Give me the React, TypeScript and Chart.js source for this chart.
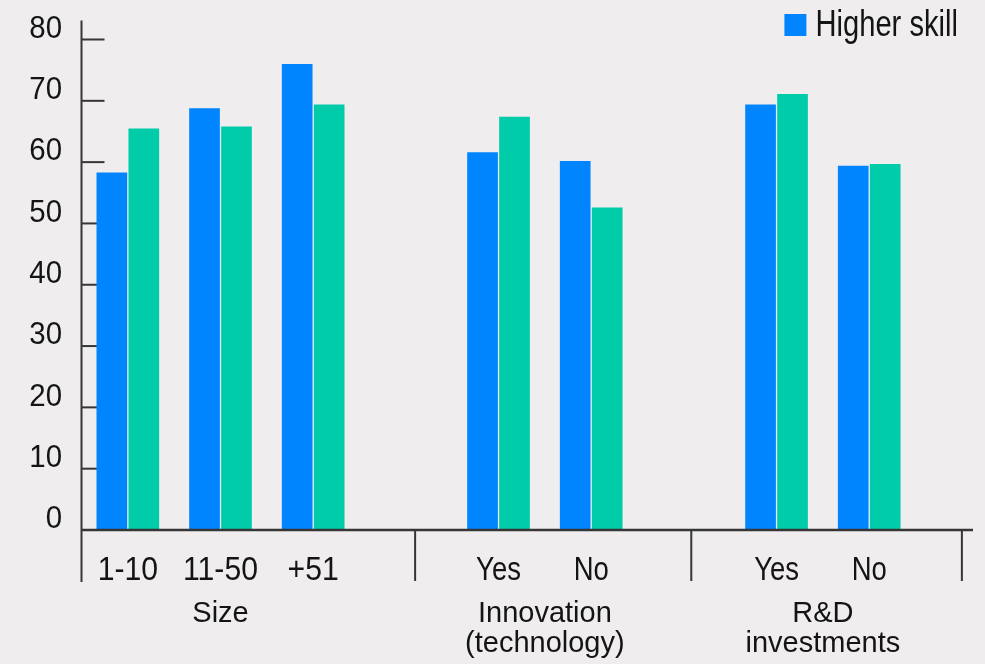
import React, { useEffect, useRef } from "react";
import { Chart, registerables } from "chart.js";

Chart.register(...registerables);

// ---- Data ----
const categoryLabels = ["1-10", "11-50", "+51", "Yes", "No", "Yes", "No"];
const categoryPositions = [0, 1, 2, 4, 5, 7, 8];
const higherSkill = [58.3, 68.8, 76.0, 61.6, 60.2, 69.4, 59.4];
const lowerSkill = [65.5, 65.8, 69.4, 67.4, 52.6, 71.1, 59.7];
const seriesNames = ["Higher skill", "Lower skill"];
const groupLabels = [["Size"], ["Innovation", "(technology)"], ["R&D", "investments"]];
const groupCenters = [1, 4.5, 7.5];
const groupDividers = [3.1, 6.08, 9.0];
const yTickValues = [0, 10, 20, 30, 40, 50, 60, 70, 80];

// ---- Styles ----
const BG = "#efedee";
const BLUE = "#0085ff";
const GREEN = "#00cca9";
const TEXT = "#141414";
const AXIS = "#363636";
const FONT = '"Liberation Sans", Arial, Helvetica, sans-serif';

function drawText(
  ctx: CanvasRenderingContext2D,
  text: string,
  x: number,
  y: number,
  size: number,
  align: CanvasTextAlign,
  baseline: CanvasTextBaseline,
  sx: number
) {
  ctx.save();
  ctx.translate(x, y);
  ctx.scale(sx, 1);
  ctx.font = `${size}px ${FONT}`;
  ctx.textAlign = align;
  ctx.textBaseline = baseline;
  ctx.fillText(text, 0, 0);
  ctx.restore();
}

const condense = (s: string) => (/[0-9]/.test(s) ? 0.9 : 0.82);

const decorPlugin = {
  id: "decor",
  beforeDatasetsDraw(chart: any) {
    const { ctx, chartArea, scales } = chart;
    const y = scales.y;
    ctx.save();
    ctx.strokeStyle = AXIS;
    ctx.lineWidth = 2;
    yTickValues.forEach((v) => {
      const py = y.getPixelForValue(v);
      ctx.beginPath();
      ctx.moveTo(chartArea.left, py);
      ctx.lineTo(chartArea.left + 23, py);
      ctx.stroke();
    });
    ctx.fillStyle = TEXT;
    yTickValues.forEach((v) => {
      const py = y.getPixelForValue(v);
      drawText(ctx, String(v), chartArea.left - 19.5, py - 10.5, 32, "right", "middle", 0.92);
    });
    ctx.restore();
  },
  afterDatasetsDraw(chart: any) {
    const { ctx, chartArea, scales } = chart;
    const x = scales.x;
    const y = scales.y;
    const y0 = y.getPixelForValue(0);
    ctx.save();
    ctx.strokeStyle = AXIS;
    // y axis line
    ctx.lineWidth = 2;
    ctx.beginPath();
    ctx.moveTo(chartArea.left, chartArea.top - 19);
    ctx.lineTo(chartArea.left, y0 + 52);
    ctx.stroke();
    // x axis line
    ctx.lineWidth = 2.5;
    ctx.beginPath();
    ctx.moveTo(chartArea.left, y0);
    ctx.lineTo(chartArea.right, y0);
    ctx.stroke();
    // group dividers
    ctx.lineWidth = 2;
    groupDividers.forEach((d) => {
      const px = x.getPixelForValue(d);
      ctx.beginPath();
      ctx.moveTo(px, y0);
      ctx.lineTo(px, y0 + 51);
      ctx.stroke();
    });
    // category labels
    ctx.fillStyle = TEXT;
    categoryPositions.forEach((p, i) => {
      const t = categoryLabels[i];
      drawText(ctx, t, x.getPixelForValue(p), y0 + 50, 33.5, "center", "alphabetic", condense(t));
    });
    // group labels
    groupLabels.forEach((lines, i) => {
      const cx = x.getPixelForValue(groupCenters[i]);
      lines.forEach((line, j) => {
        drawText(ctx, line, cx, y0 + 92 + j * 30, 29, "center", "alphabetic", 1);
      });
    });
    ctx.restore();
  },
  afterDraw(chart: any) {
    const { ctx, chartArea } = chart;
    const ds = chart.data.datasets[0];
    ctx.save();
    const sx = 0.81;
    ctx.font = `36px ${FONT}`;
    const w = ctx.measureText(ds.label).width * sx;
    const textX = chartArea.right - 15 - w;
    const baseline = chartArea.top - 3.5;
    ctx.fillStyle = TEXT;
    drawText(ctx, ds.label, textX, baseline, 36, "left", "alphabetic", sx);
    ctx.fillStyle = ds.backgroundColor;
    ctx.fillRect(textX - 31, baseline - 22, 22, 22);
    ctx.restore();
  },
};

export default function App() {
  const canvasRef = useRef<HTMLCanvasElement | null>(null);

  useEffect(() => {
    document.body.style.margin = "0";
    document.body.style.background = BG;
    const canvas = canvasRef.current;
    if (!canvas) return;
    const chart = new Chart(canvas, {
      type: "bar",
      data: {
        datasets: [
          {
            label: seriesNames[0],
            data: categoryPositions.map((p, i) => ({ x: p, y: higherSkill[i] })),
            backgroundColor: BLUE,
            borderWidth: 0,
          },
          {
            label: seriesNames[1],
            data: categoryPositions.map((p, i) => ({ x: p, y: lowerSkill[i] })),
            backgroundColor: GREEN,
            borderWidth: 0,
          },
        ],
      },
      options: {
        animation: false,
        responsive: true,
        maintainAspectRatio: false,
        layout: { padding: { top: 39.5, bottom: 134, left: 0, right: 12 } },
        datasets: {
          bar: { categoryPercentage: 0.69, barPercentage: 0.96 },
        },
        plugins: {
          legend: { display: false },
          tooltip: { enabled: false },
          title: { display: false },
        },
        scales: {
          x: {
            type: "linear",
            display: false,
            offset: false,
            min: -0.5,
            max: 9.12,
            grid: { display: false },
            border: { display: false },
            ticks: { display: false },
            afterBuildTicks: (scale: any) => {
              scale.ticks = categoryPositions.map((v) => ({ value: v }));
            },
          },
          y: {
            type: "linear",
            min: 0,
            max: 80,
            grid: { display: false, drawTicks: false },
            border: { display: false },
            afterFit: (scale: any) => {
              scale.width = 81.5;
            },
            afterBuildTicks: (scale: any) => {
              scale.ticks = yTickValues.map((v) => ({ value: v }));
            },
            ticks: { display: false },
          },
        },
      },
      plugins: [decorPlugin],
    });
    return () => chart.destroy();
  }, []);

  return (
    <div
      style={{
        position: "absolute",
        left: 0,
        top: 0,
        width: 985,
        height: 664,
        background: BG,
      }}
    >
      <canvas ref={canvasRef} />
    </div>
  );
}
